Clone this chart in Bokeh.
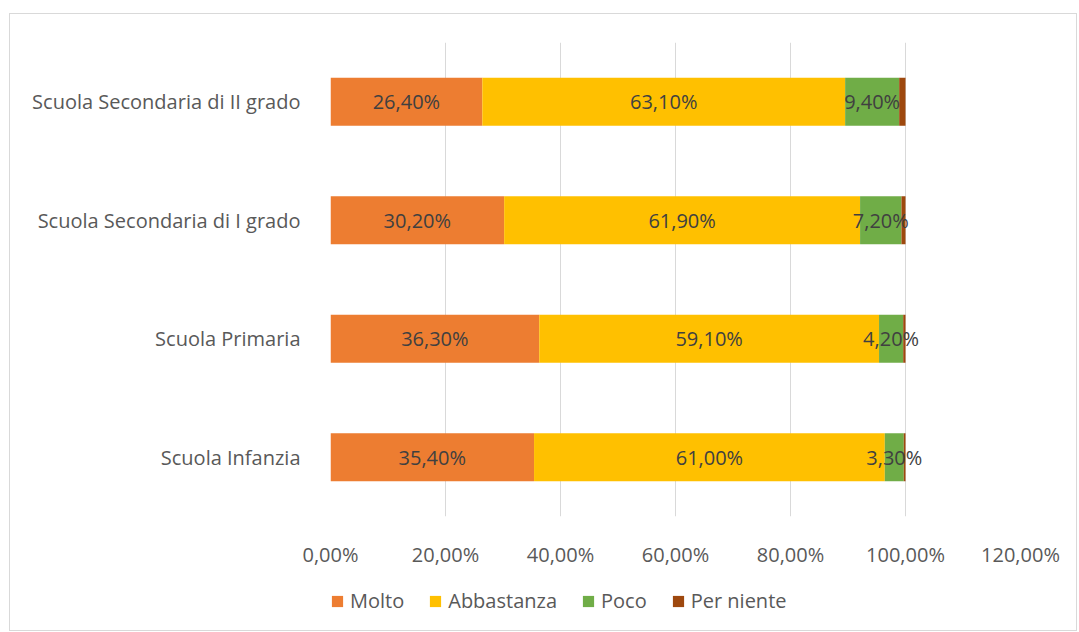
import numpy as np
from bokeh.plotting import figure
from bokeh.layouts import column
from bokeh.models import (ColumnDataSource, FactorRange, Range1d, FixedTicker)
from bokeh.core.properties import value
from bokeh.embed import file_html
from bokeh.resources import INLINE

categories = ["Scuola Infanzia", "Scuola Primaria",
              "Scuola Secondaria di I grado", "Scuola Secondaria di II grado"]
molto = [35.4, 36.3, 30.2, 26.4]
abbastanza = [61.0, 59.1, 61.9, 63.1]
poco = [3.3, 4.2, 7.2, 9.4]
per_niente = [0.3, 0.4, 0.7, 1.1]
series_names = ["Molto", "Abbastanza", "Poco", "Per niente"]
colors = ["#ED7D31", "#FFC000", "#70AD47", "#9E480E"]
x_ticks = [0, 20, 40, 60, 80, 100, 120]
x_tick_labels = ["0,00%", "20,00%", "40,00%", "60,00%", "80,00%", "100,00%", "120,00%"]

FONT = "Open Sans"
FS = "20px"

data = {"cat": categories, "Molto": molto, "Abbastanza": abbastanza,
        "Poco": poco, "Per niente": per_niente}
source = ColumnDataSource(data)

p = figure(frame_width=690, frame_height=474, output_backend="svg", toolbar_location=None,
           y_range=FactorRange(factors=categories, range_padding=0),
           x_range=Range1d(0, 120),
           min_border_left=320, min_border_right=56, min_border_top=28,
           min_border_bottom=50)

renderers = p.hbar_stack(series_names, y="cat", height=0.405, color=colors,
                         source=source, line_color=None)

def fmt(v):
    return ("%.2f" % v).replace(".", ",") + "%"

lab_x, lab_y, lab_t = [], [], []
for i, c in enumerate(categories):
    start = 0.0
    for arr in (molto, abbastanza, poco):
        lab_x.append(start + arr[i] / 2)
        lab_y.append(c)
        lab_t.append(fmt(arr[i]))
        start += arr[i]
lsrc = ColumnDataSource(dict(x=lab_x, y=lab_y, t=lab_t))
p.text(x="x", y="y", text="t", source=lsrc, text_align="center",
       text_baseline="middle", text_font=value(FONT), text_font_size=FS,
       text_color="#404040")

p.xaxis.ticker = FixedTicker(ticks=x_ticks)
p.xaxis.major_label_overrides = {t: l for t, l in zip(x_ticks, x_tick_labels)}
for ax in (p.xaxis, p.yaxis):
    ax.axis_line_color = None
    ax.major_tick_line_color = None
    ax.minor_tick_line_color = None
    ax.major_label_text_font = FONT
    ax.major_label_text_font_size = FS
    ax.major_label_text_color = "#595959"
p.yaxis.major_label_standoff = 24
p.xaxis.major_label_standoff = 18

p.ygrid.grid_line_color = None
p.xgrid.grid_line_color = "#d9d9d9"
p.xgrid.ticker = FixedTicker(ticks=x_ticks)
p.outline_line_color = None

# legend strip below the chart: placeholder glyphs with no drawable geometry
lf = figure(width=1066, height=60, output_backend="svg", toolbar_location=None,
            x_range=Range1d(0, 1), y_range=Range1d(0, 1),
            x_axis_type=None, y_axis_type=None,
            min_border=0)
lf.grid.grid_line_color = None
lf.outline_line_color = None
nan_src = ColumnDataSource(dict(y=np.array([np.nan]), l=np.array([np.nan]),
                                r=np.array([np.nan])))
for n, c in zip(series_names, colors):
    lf.hbar(y="y", left="l", right="r", height=0.5, source=nan_src,
            color=c, line_color=None, legend_label=n)
lg = lf.legend[0]
lg.orientation = "horizontal"
lg.location = (0, 16)
lg.label_text_font = FONT
lg.label_text_font_size = FS
lg.label_text_color = "#595959"
lg.glyph_width = 14
lg.glyph_height = 14
lg.label_standoff = 6
lg.spacing = 24
lg.border_line_color = None
lg.background_fill_alpha = 0
lg.margin = 0
lg.padding = 0

layout = column(p, lf, spacing=0, margin=(13, 0, 0, 9),
                styles={"border": "1px solid #d9d9d9"})

open("out.html", "w").write(file_html(layout, INLINE))
